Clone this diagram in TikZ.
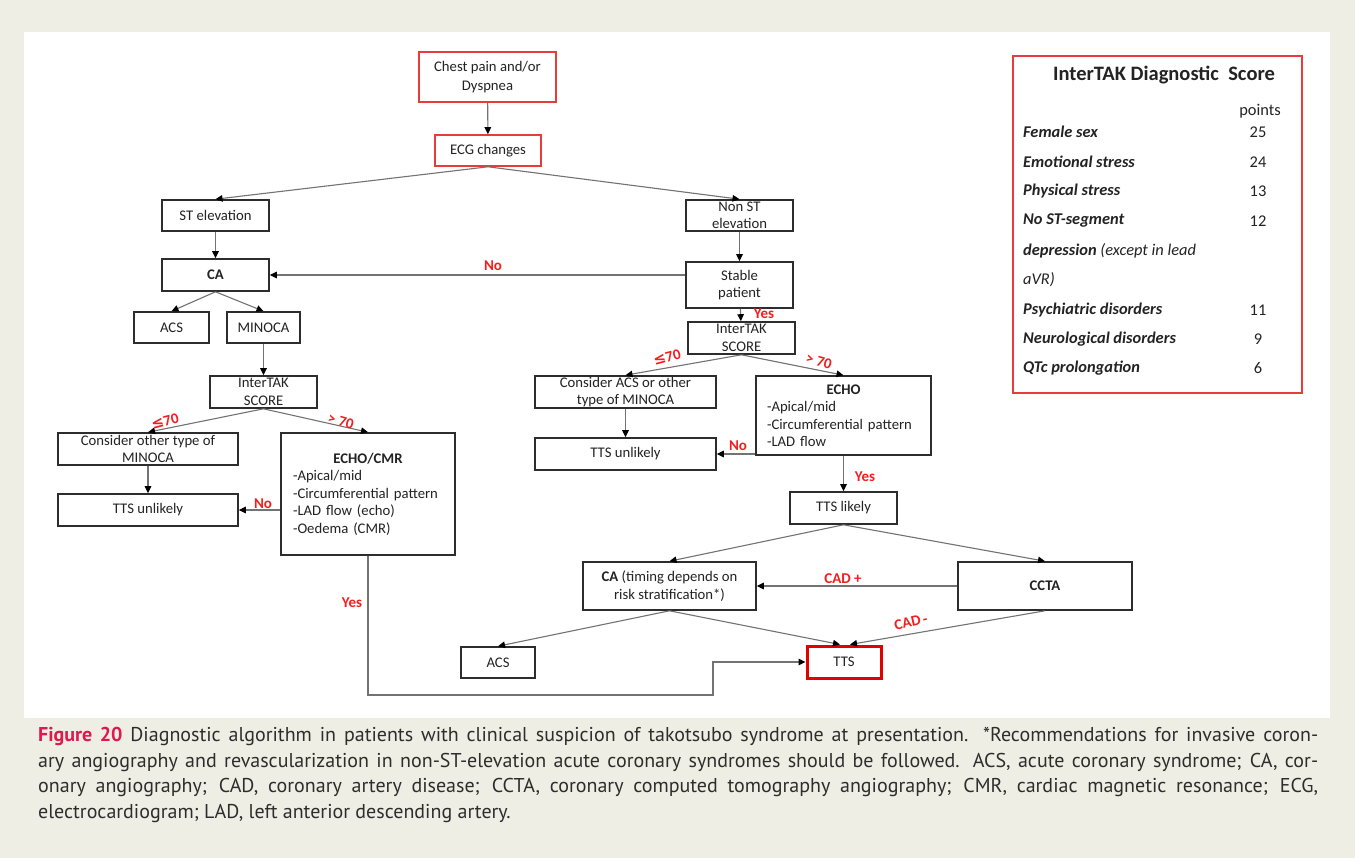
\documentclass[tikz,border=0pt]{standalone}
\usepackage{fontspec}
\setmainfont{Carlito}
\newfontfamily\capfont{PT Sans}
\newfontfamily\symfont{DejaVu Sans}
\usetikzlibrary{arrows.meta}
\definecolor{bgbeige}{RGB}{238,238,228}
\definecolor{lblred}{RGB}{245,30,30}
\definecolor{boxred}{RGB}{232,60,60}
\definecolor{figred}{RGB}{222,25,80}
\definecolor{linegray}{RGB}{115,115,115}
\definecolor{boxgray}{RGB}{45,45,45}
\definecolor{txtgray}{RGB}{35,35,35}
\definecolor{captxt}{RGB}{45,45,45}
\newcommand{\fsz}[2]{\fontsize{#1}{#2}\selectfont}
\newcommand{\myleq}{{\symfont\bfseries ≤}}
\tikzset{
  box/.style={draw=boxgray, line width=1.6pt, fill=white, inner xsep=2pt, inner ysep=0pt,
    align=center, text=txtgray, font=\fsz{14.7}{17.5}},
  redbox/.style={box, draw=boxred},
  conn/.style={draw=linegray, line width=1.1pt, -{Triangle[length=7pt,width=6.5pt,color=black]}},
  lbl/.style={text=lblred, font=\fsz{15}{17}\bfseries, inner sep=0pt},
  tbl/.style={text=txtgray, font=\fsz{16.4}{18}, inner sep=0pt},
}
\begin{document}
\begin{tikzpicture}[x=1pt,y=-1pt]
\useasboundingbox (0,0) rectangle (1355,858);
\fill[bgbeige] (0,0) rectangle (1355,858);
\fill[white] (24,32) rectangle (1330,718);

% nodes
\node[redbox, minimum width=137, minimum height=50, font=\fsz{14.7}{19}] (chest) at (487.5,77) {Chest pain and/or\\Dyspnea};
\node[redbox, minimum width=106, minimum height=31] (ecg) at (488,150.5) {ECG changes};
\node[box, minimum width=107, minimum height=31] (stel) at (215.5,215.5) {ST elevation};
\node[box, minimum width=107, minimum height=31] (nonst) at (739.5,215.5) {Non ST\\elevation};
\node[box, minimum width=107, minimum height=32] (ca) at (215.5,275) {\textbf{CA}};
\node[box, minimum width=107, minimum height=46] (stable) at (739.5,285) {Stable\\patient};
\node[box, minimum width=75, minimum height=31] (acsa) at (171.5,327.5) {ACS};
\node[box, minimum width=73, minimum height=31] (minoca) at (263.5,327.5) {MINOCA};
\node[box, minimum width=107, minimum height=32] (ita) at (263.5,392) {InterTAK\\SCORE};
\node[box, minimum width=107, minimum height=32] (itb) at (741.5,338) {InterTAK\\SCORE};
\node[box, minimum width=180, minimum height=32] (consa) at (148,449) {Consider other type of\\MINOCA};
\node[box, minimum width=174, minimum height=122, text width=150, inner xsep=12pt, align=left] (echocmr) at (368,494)
  {{\centering\textbf{ECHO/CMR}\par}-Apical/mid\\-Circumferential pattern\\-LAD flow (echo)\\-Oedema (CMR)};
\node[box, minimum width=180, minimum height=32] (ttsua) at (148,510) {TTS unlikely};
\node[box, minimum width=181, minimum height=32] (consb) at (625.5,392) {Consider ACS or other\\type of MINOCA};
\node[box, minimum width=175, minimum height=79, text width=153, inner xsep=11pt, align=left] (echo) at (843.5,415.5)
  {{\centering\textbf{ECHO}\par}-Apical/mid\\-Circumferential pattern\\-LAD flow};
\node[box, minimum width=181, minimum height=32] (ttsub) at (625.5,454) {TTS unlikely};
\node[box, minimum width=107, minimum height=32] (ttsl) at (843.5,508) {TTS likely};
\node[box, minimum width=173, minimum height=48] (caz) at (669.5,586) {\textbf{CA} (timing depends on\\risk stratification*)};
\node[box, minimum width=174, minimum height=48] (ccta) at (1045,586) {\textbf{CCTA}};
\node[box, minimum width=74, minimum height=31] (acsb) at (498,662.5) {ACS};
\node[box, draw=red!90!black, line width=3pt, minimum width=74, minimum height=32] (tts) at (844,662) {TTS};

% connectors
\draw[conn] (chest) -- (ecg);
\draw[conn] (ecg.south) -- (stel.north);
\draw[conn] (ecg.south) -- (nonst.north);
\draw[conn] (stel) -- (ca);
\draw[conn] (nonst) -- (stable);
\draw[conn] (stable.west |- ca.east) -- (ca.east);
\draw[conn] (stable) -- (itb);
\draw[conn] (ca.south) -- (acsa.north);
\draw[conn] (ca.south) -- (minoca.north);
\draw[conn] (minoca) -- (ita);
\draw[conn] (ita.south) -- (consa.north);
\draw[conn] (ita.south) -- (echocmr.north);
\draw[conn] (consa) -- (ttsua);
\draw[conn] (echocmr.west |- ttsua.east) -- (ttsua.east);
\coordinate (ybend) at (713,695);
\draw[conn] (echocmr.south) |- (ybend) |- (tts.west);
\draw[conn] (itb.south) -- (consb.north);
\draw[conn] (itb.south) -- (echo.north);
\draw[conn] (consb) -- (ttsub);
\draw[conn] (echo.west |- ttsub.east) -- (ttsub.east);
\draw[conn] (echo) -- (ttsl);
\draw[conn] (ttsl.south) -- (caz.north);
\draw[conn] (ttsl.south) -- (ccta.north);
\draw[conn] (ccta.west) -- (caz.east);
\draw[conn] (caz.south) -- (acsb.north);
\draw[conn] (caz.south) -- ([xshift=-4pt]tts.north);
\draw[conn] (ccta.south) -- ([xshift=6pt]tts.north);

% labels
\node[lbl] (l1) at (493,266) {No};
\node[lbl] (l2) at (764,314) {Yes};
\node[lbl, rotate=15] (l3) at (165,421) {\myleq70};
\node[lbl, rotate=-15] (l4) at (341,421) {> 70};
\node[lbl] (l5) at (263,504) {No};
\node[lbl] (l6) at (352,603) {Yes};
\node[lbl, rotate=15] (l7) at (667,357) {\myleq70};
\node[lbl, rotate=-15] (l8) at (819,361) {> 70};
\node[lbl] (l9) at (738,446) {No};
\node[lbl] (l10) at (865,477) {Yes};
\node[lbl] (l11) at (843,579) {CAD +};
\node[lbl, rotate=13] (l12) at (911,622) {CAD\,-};

% InterTAK table
\draw[boxred, line width=1.3pt] (1013,56) rectangle (1302,393);
\node[tbl, font=\fsz{20.5}{22}\bfseries] (ttl) at (1164,75) {InterTAK Diagnostic\ \ Score};
\node[tbl] (pts) at (1260,111) {points};
\foreach \lab/\num/\yy [count=\i] in {
  {\textbf{\textit{Female sex}}}/25/132,
  {\textbf{\textit{Emotional stress}}}/24/162,
  {\textbf{\textit{Physical stress}}}/13/191,
  {\textbf{\textit{No ST-segment}}}/12/221,
  {\textbf{\textit{depression}} \textit{(except in lead}}//251,
  {\textit{aVR)}}//280,
  {\textbf{\textit{Psychiatric disorders}}}/11/310,
  {\textbf{\textit{Neurological disorders}}}/9/339,
  {\textbf{\textit{QTc prolongation}}}/6/368}{
  \node[tbl, anchor=west] (row\i) at (1023,\yy) {\lab};
  \node[tbl] (num\i) at (1258,\yy) {\num};
}

% caption
\node[anchor=north west, inner sep=0pt, text width=1280pt, align=justify, text=captxt,
  font=\capfont\fsz{20}{25.7}] (cap) at (38,727)
  {{\color{figred}\bfseries Figure 20} Diagnostic algorithm in patients with clinical suspicion of takotsubo syndrome at presentation. *Recommendations for invasive coron-\linebreak
  ary angiography and revascularization in non-ST-elevation acute coronary syndromes should be followed. ACS, acute coronary syndrome; CA, cor-\linebreak
  onary angiography; CAD, coronary artery disease; CCTA, coronary computed tomography angiography; CMR, cardiac magnetic resonance; ECG,\linebreak
  electrocardiogram; LAD, left anterior descending artery.};
\end{tikzpicture}
\end{document}
